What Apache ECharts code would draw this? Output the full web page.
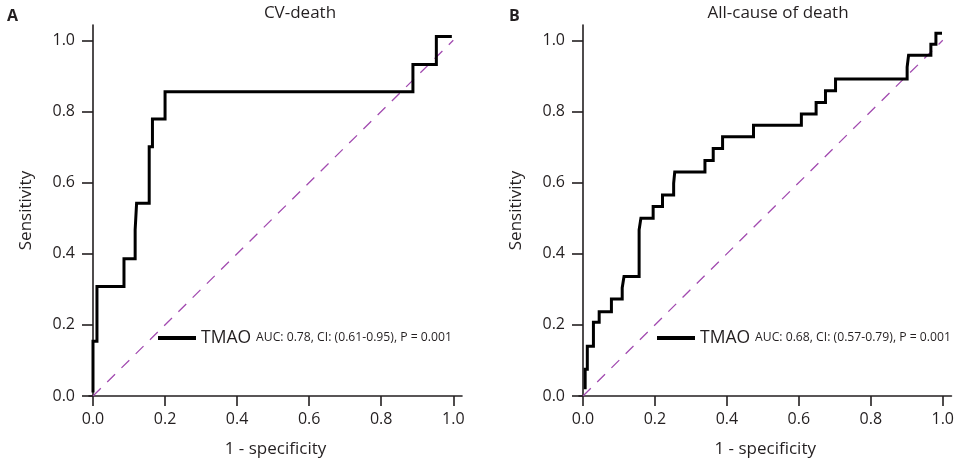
<!DOCTYPE html>
<html>
<head>
<meta charset="utf-8">
<script src="https://cdn.jsdelivr.net/npm/echarts@6/dist/echarts.min.js"></script>
<style>
  html, body { margin: 0; padding: 0; background: #fff; }
  #chart { width: 957px; height: 463px; }
</style>
</head>
<body>
<div id="chart"></div>
<script>
// ROC curve corner points (1 - specificity, sensitivity)
const cvX = [0, 0, 0.011, 0.011, 0.086, 0.086, 0.117, 0.117, 0.121, 0.121, 0.156, 0.156, 0.165, 0.165, 0.2, 0.2, 0.888, 0.888, 0.953, 0.953, 0.996];
const cvY = [0.01, 0.154, 0.154, 0.308, 0.308, 0.386, 0.386, 0.467, 0.467, 0.542, 0.542, 0.701, 0.701, 0.779, 0.779, 0.855, 0.855, 0.932, 0.932, 1.011, 1.011];

const allX = [0.006, 0.006, 0.012, 0.012, 0.029, 0.029, 0.045, 0.045, 0.079, 0.079, 0.109, 0.109, 0.114, 0.114, 0.156, 0.156, 0.161, 0.161,
  0.195, 0.195, 0.221, 0.221, 0.252, 0.252, 0.255, 0.255, 0.339, 0.339, 0.362, 0.362, 0.388, 0.388, 0.474, 0.474, 0.607, 0.607,
  0.648, 0.648, 0.674, 0.674, 0.702, 0.702, 0.901, 0.901, 0.905, 0.905, 0.967, 0.967, 0.981, 0.981, 0.998];
const allY = [0.019, 0.075, 0.075, 0.140, 0.140, 0.207, 0.207, 0.237, 0.237, 0.273, 0.273, 0.304, 0.304, 0.336, 0.336, 0.467, 0.467, 0.500,
  0.500, 0.533, 0.533, 0.565, 0.565, 0.598, 0.598, 0.630, 0.630, 0.662, 0.662, 0.696, 0.696, 0.729, 0.729, 0.761, 0.761, 0.793,
  0.793, 0.825, 0.825, 0.858, 0.858, 0.891, 0.891, 0.925, 0.925, 0.958, 0.958, 0.989, 0.989, 1.020, 1.020];

const diagX = [0, 1];
const diagY = [0, 1];

const tickValues = [0, 0.2, 0.4, 0.6, 0.8, 1.0];

const panelTitles = ['CV-death', 'All-cause of death'];
const panelLetters = ['A', 'B'];
const legendStats = ['AUC: 0.78, CI: (0.61-0.95), P = 0.001', 'AUC: 0.68, CI: (0.57-0.79), P = 0.001'];

const FONT = 'Open Sans';
const INK = '#231f20';
const pairs = (xs, ys) => xs.map((x, i) => [x, ys[i]]);

const chart = echarts.init(document.getElementById('chart'), null, { renderer: 'canvas' });

function xAxisFor(idx) {
    return {
        gridIndex: idx,
        type: 'value',
        min: -0.0111,
        max: 1.0242,
        name: '1 - specificity',
        nameLocation: 'middle',
        nameGap: 45,
        nameTextStyle: { fontFamily: FONT, fontSize: 17, color: INK },
        axisLine: { show: true, lineStyle: { color: INK, width: 1.6 } },
        axisTick: { show: true, length: 10, lineStyle: { color: INK, width: 1.6 }, customValues: tickValues },
        axisLabel: {
            fontFamily: FONT, fontSize: 16, color: INK, margin: 15,
            customValues: tickValues,
            formatter: v => v.toFixed(1)
        },
        splitLine: { show: false }
    };
}

function yAxisFor(idx) {
    return {
        gridIndex: idx,
        type: 'value',
        min: 0,
        max: 1.043,
        name: 'Sensitivity',
        nameLocation: 'middle',
        nameGap: 54,
        nameTextStyle: { fontFamily: FONT, fontSize: 17, color: INK },
        axisLine: { show: true, lineStyle: { color: INK, width: 1.6 } },
        axisTick: { show: true, length: 11, lineStyle: { color: INK, width: 1.6 }, customValues: tickValues },
        axisLabel: {
            fontFamily: FONT, fontSize: 16, color: INK, margin: 14,
            customValues: tickValues,
            formatter: v => v.toFixed(1)
        },
        splitLine: { show: false }
    };
}

function legendFor(idx, left) {
    return {
        data: [{ name: 'TMAO', itemStyle: { color: '#000', borderWidth: 0 } }],
        left: left,
        top: 329,
        padding: 0,
        icon: 'rect',
        itemWidth: 38,
        itemHeight: 4,
        selectedMode: false,
        formatter: () => '{a|TMAO}{b|' + legendStats[idx] + '}',
        textStyle: {
            rich: {
                a: { fontFamily: FONT, fontSize: 17.5, lineHeight: 20, color: INK },
                b: { fontFamily: FONT, fontSize: 12.2, lineHeight: 20, color: INK, padding: [0, 0, 0, 5] }
            }
        }
    };
}

const curveStyle = { color: '#000', width: 3, join: 'miter' };
const diagStyle = { color: '#a24bb0', width: 1.3, type: [11, 9] };

const option = {
    backgroundColor: '#fff',
    animation: false,
    title: [
        { text: panelTitles[0], left: 295, top: 0, textAlign: 'center', textStyle: { fontFamily: FONT, fontSize: 17, fontWeight: 'normal', color: INK } },
        { text: panelTitles[1], left: 773, top: 0, textAlign: 'center', textStyle: { fontFamily: FONT, fontSize: 17, fontWeight: 'normal', color: INK } },
        { text: panelLetters[0], left: 2, top: 3, textStyle: { fontFamily: FONT, fontSize: 16, fontWeight: 'bold', color: INK } },
        { text: panelLetters[1], left: 504, top: 3, textStyle: { fontFamily: FONT, fontSize: 16, fontWeight: 'bold', color: INK } }
    ],
    legend: [legendFor(0, 158), legendFor(1, 657)],
    grid: [
        { left: 89, right: 495, top: 25, bottom: 66 },
        { left: 579, right: 5, top: 25, bottom: 66 }
    ],
    xAxis: [xAxisFor(0), xAxisFor(1)],
    yAxis: [yAxisFor(0), yAxisFor(1)],
    series: [
        { name: 'chance', type: 'line', xAxisIndex: 0, yAxisIndex: 0, data: pairs(diagX, diagY), showSymbol: false, lineStyle: diagStyle, silent: true },
        { name: 'TMAO', type: 'line', xAxisIndex: 0, yAxisIndex: 0, data: pairs(cvX, cvY), showSymbol: false, itemStyle: { color: '#000' }, lineStyle: curveStyle },
        { name: 'chance', type: 'line', xAxisIndex: 1, yAxisIndex: 1, data: pairs(diagX, diagY), showSymbol: false, lineStyle: diagStyle, silent: true },
        { name: 'TMAO', type: 'line', xAxisIndex: 1, yAxisIndex: 1, data: pairs(allX, allY), showSymbol: false, itemStyle: { color: '#000' }, lineStyle: curveStyle }
    ]
};

chart.setOption(option);
</script>
</body>
</html>
